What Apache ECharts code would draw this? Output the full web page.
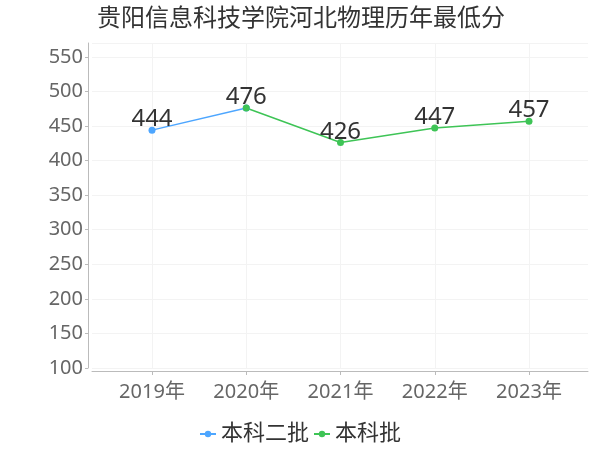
<!DOCTYPE html>
<html>
<head>
<meta charset="utf-8">
<script src="https://cdn.jsdelivr.net/npm/echarts@6/dist/echarts.min.js"></script>
<style>html,body{margin:0;padding:0;background:#fff}#c{width:600px;height:450px}</style>
</head>
<body>
<div id="c"></div>
<script>
const titleText = '贵阳信息科技学院河北物理历年最低分';
const categories = ['2019年', '2020年', '2021年', '2022年', '2023年'];
const seriesNames = ['本科二批', '本科批'];
const erpiValues = [444, 476, null, null, null];
const benkeValues = [null, 476, 426, 447, 457];
const yMin = 100, yMax = 570, yStep = 50;

const font = '"Noto Sans", "Noto Sans CJK SC", sans-serif';
// the shared 2020 point is labelled once (by the series drawn on top)
const erpiData = erpiValues.map((v, i) =>
  benkeValues[i] != null ? { value: v, label: { show: false } } : v);

const chart = echarts.init(document.getElementById('c'));
chart.setOption({
  animation: false,
  color: ['#4da6ff', '#3ec456'],
  title: {
    text: titleText, left: 92, top: 2,
    textStyle: { fontFamily: font, fontSize: 24, fontWeight: 'normal', color: '#333' }
  },
  legend: {
    bottom: 0, left: 'center', itemWidth: 16, itemHeight: 8, itemGap: 4,
    textStyle: { fontFamily: font, fontSize: 22, color: '#333' },
    data: seriesNames
  },
  grid: [
    { left: 92, right: 12, top: 43, bottom: 82 },
    { left: 152, right: 71, top: 43, bottom: 82 }
  ],
  xAxis: [
    { gridIndex: 0, type: 'category', data: categories, offset: 3,
      axisLine: { lineStyle: { color: '#bbb' } }, axisTick: { show: false },
      axisLabel: { show: false }, splitLine: { show: false } },
    { gridIndex: 1, type: 'category', data: categories, boundaryGap: false, offset: 3,
      axisLine: { show: false },
      axisTick: { show: true, length: 4, lineStyle: { color: '#bbb' } },
      axisLabel: { fontFamily: font, fontSize: 20, color: '#666', margin: 11 },
      splitLine: { show: true, lineStyle: { color: '#f3f3f3' } } }
  ],
  yAxis: [
    { gridIndex: 0, type: 'value', min: yMin, max: yMax, interval: yStep, offset: 4,
      axisLine: { show: true, lineStyle: { color: '#bbb' } },
      axisTick: { show: true, length: 3, lineStyle: { color: '#bbb' } },
      axisLabel: { fontFamily: font, fontSize: 20, color: '#666', margin: 5, showMaxLabel: false },
      splitLine: { show: true, lineStyle: { color: '#f3f3f3' } } },
    { gridIndex: 1, type: 'value', min: yMin, max: yMax, interval: yStep, show: false,
      splitLine: { show: false } }
  ],
  series: [
    { name: seriesNames[0], type: 'line', xAxisIndex: 1, yAxisIndex: 1, data: erpiData,
      symbol: 'circle', symbolSize: 7, lineStyle: { width: 1.5 },
      label: { show: true, position: 'top', distance: -5, fontFamily: font, fontSize: 24, color: '#333' } },
    { name: seriesNames[1], type: 'line', xAxisIndex: 1, yAxisIndex: 1, data: benkeValues,
      symbol: 'circle', symbolSize: 7, lineStyle: { width: 1.5 },
      label: { show: true, position: 'top', distance: -5, fontFamily: font, fontSize: 24, color: '#333' } }
  ]
});
</script>
</body>
</html>
